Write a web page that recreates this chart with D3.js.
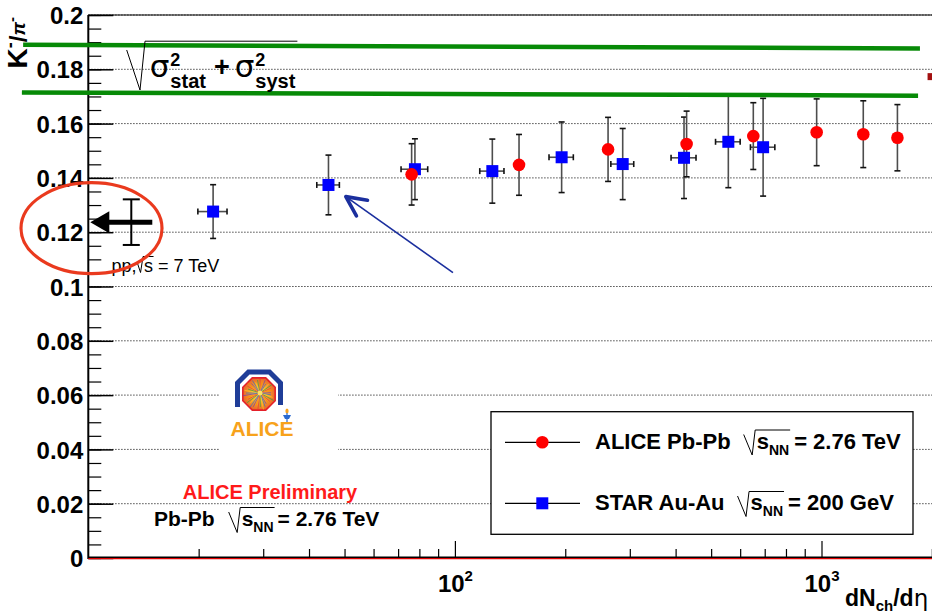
<!DOCTYPE html>
<html>
<head>
<meta charset="utf-8">
<script src="https://cdn.jsdelivr.net/npm/d3@7"></script>
<style>
  html, body { margin: 0; padding: 0; background: #fff; }
  svg { display: block; }
</style>
</head>
<body>
<svg id="chart" width="932" height="615"></svg>
<script>
const FONT = "'Liberation Sans', Arial, Helvetica, sans-serif";

// ALICE Pb-Pb, sqrt(sNN) = 2.76 TeV
const aliceDNdEta = [76.2, 149.6, 261.7, 428.6, 651.6, 970, 1300, 1611];
const aliceRatio  = [0.1413, 0.1448, 0.1505, 0.1525, 0.1554, 0.1568, 0.1561, 0.1548];
const aliceErr    = [0.0113, 0.0112, 0.0118, 0.0121, 0.0123, 0.0123, 0.0123, 0.0122];

// STAR Au-Au, sqrt(sNN) = 200 GeV
const starDNdEta    = [21.9, 45.2, 77.8, 126.5, 195.5, 286.9, 421.7, 557, 693];
const starRatio     = [0.1276, 0.1374, 0.1432, 0.1425, 0.1476, 0.1451, 0.1474, 0.1533, 0.1513];
const starErr       = [0.0099, 0.0110, 0.0112, 0.0118, 0.0130, 0.0131, 0.0150, 0.0169, 0.0180];
const starDNdEtaErr = [2.0, 3.2, 6.5, 9.6, 14.9, 20.6, 33, 43, 53];

// pp, sqrt(s) = 7 TeV reference point
const ppDNdEta = [13.1];
const ppRatio  = [0.1237];
const ppErr    = [0.0084];

// partially visible marker at the right edge of the frame
const edgeDNdEta = [1990];
const edgeRatio  = [0.1773];

// total-uncertainty band lines (start / end points)
const bandUpperDN = [6.64, 1856];
const bandUpperV  = [0.1890, 0.1877];
const bandLowerDN = [6.59, 1834];
const bandLowerV  = [0.1715, 0.1703];

// arrow annotation: tail -> head
const arrowDN = [98.8, 50.4];
const arrowV  = [0.1051, 0.1331];

// axes
const yTickValues = [0, 0.02, 0.04, 0.06, 0.08, 0.1, 0.12, 0.14, 0.16, 0.18, 0.2];
const yTickLabels = ["0", "0.02", "0.04", "0.06", "0.08", "0.1", "0.12", "0.14", "0.16", "0.18", "0.2"];
const yMinorTicks = d3.range(0, 41).map(i => +(i * 0.005).toFixed(3));
const xMajorTicks = [100, 1000];
const xMajorExp   = ["2", "3"];
const xMinorTicks = [20, 30, 40, 50, 60, 70, 80, 90, 200, 300, 400, 500, 600, 700, 800, 900, 2000];

const svg = d3.select("#chart");

const X0 = 88.3, DEC = 366.6;
const x = d3.scaleLog().domain([10, 2200]).range([X0, X0 + DEC * Math.log10(220)]);
const y = d3.scaleLinear().domain([0, 0.2]).range([558, 15]);
const xR = x.range()[1];

// rich text helper: sequence of runs, sub/superscripts and radicals
function richText(g, x0, y0, parts, anchor) {
  const grp = g.append("g");
  let cx = 0, sq = null;
  const style = (sel, p) => sel
    .attr("font-family", p.family || FONT)
    .attr("font-size", p.size)
    .attr("font-weight", p.weight || "bold")
    .attr("font-style", p.style || "normal")
    .attr("fill", p.fill || "#000");
  parts.forEach(p => {
    if (p.gap !== undefined) { cx += p.gap; return; }
    if (p.sqrt === "open") { sq = { x: cx, p }; cx += p.width; return; }
    if (p.sqrt === "close") {
      const s = sq.p, sx = sq.x;
      grp.append("path")
        .attr("d", `M${sx},${-s.lead} L${sx + s.bx},${s.depth} L${sx + s.tx},${-s.rise} H${cx + (p.extra || 0)}`)
        .attr("fill", "none").attr("stroke", s.color || "#000")
        .attr("stroke-width", s.sw || 1).attr("stroke-linejoin", "miter");
      return;
    }
    if (p.stack) {
      // super- and subscript sharing one horizontal position
      const t = grp.append("text").attr("font-family", FONT).attr("fill", "#000");
      let w = 0;
      p.stack.forEach(q => {
        const ts = style(t.append("tspan"), q).attr("x", cx).attr("y", q.dy || 0).text(q.t);
        w = Math.max(w, ts.node().getComputedTextLength());
      });
      cx += w; return;
    }
    const t = style(grp.append("text"), p).attr("x", cx).attr("y", p.dy || 0).text(p.t);
    cx += t.node().getComputedTextLength();
  });
  const shift = anchor === "middle" ? -cx / 2 : anchor === "end" ? -cx : 0;
  grp.attr("transform", `translate(${x0 + shift},${y0})`);
  return cx;
}

// ---------- grid ----------
const grid = svg.append("g");
grid.selectAll("line").data(yTickValues.filter(v => v > 0)).join("line")
  .attr("x1", X0).attr("x2", xR)
  .attr("y1", d => y(d)).attr("y2", d => y(d))
  .attr("stroke", "#222").attr("stroke-width", 1)
  .attr("stroke-dasharray", "1.2,1.8");

// ---------- ALICE logo ----------
const logo = svg.append("g");
logo.append("rect").attr("x", 219).attr("y", 364).attr("width", 119).attr("height", 92).attr("fill", "#fff");
logo.append("path")
  .attr("d", "M237.5,407 L237.5,383 L248.5,372 L269.5,372 L280.5,383 L280.5,405")
  .attr("fill", "none").attr("stroke", "#1f3d98").attr("stroke-width", 5);
const lc = { x: 259, y: 394, r: 17.5 };
const oct = d3.range(8).map(k => {
  const a = Math.PI / 8 + k * Math.PI / 4;
  return [lc.x + lc.r * Math.cos(a), lc.y + lc.r * Math.sin(a)];
});
const defs = svg.append("defs");
const rg = defs.append("radialGradient").attr("id", "burst");
rg.append("stop").attr("offset", "0%").attr("stop-color", "#ffe36a");
rg.append("stop").attr("offset", "55%").attr("stop-color", "#f7a02a");
rg.append("stop").attr("offset", "100%").attr("stop-color", "#e8682a");
logo.append("polygon").attr("points", oct.map(p => p.join(",")).join(" "))
  .attr("fill", "url(#burst)").attr("stroke", "#e4202a").attr("stroke-width", 1.6);
const rayColors = ["#2b6fd6", "#ffd21f", "#2f9e44", "#e53935", "#ff8a00", "#6a3fb5"];
d3.range(36).forEach(k => {
  const a = k * Math.PI * 2 / 36 + 0.07;
  const len = 12 + (k * 7 % 5);
  logo.append("line")
    .attr("x1", lc.x + 1).attr("y1", lc.y - 1)
    .attr("x2", lc.x + len * Math.cos(a)).attr("y2", lc.y + len * Math.sin(a))
    .attr("stroke", rayColors[k % rayColors.length]).attr("stroke-width", 0.8).attr("opacity", 0.85);
});
logo.append("circle").attr("cx", lc.x + 1).attr("cy", lc.y - 1).attr("r", 2.5).attr("fill", "#ffe066");
logo.append("ellipse").attr("cx", 287).attr("cy", 411).attr("rx", 1.6).attr("ry", 2.5).attr("fill", "#f7a21b");
logo.append("path").attr("d", "M283,415 L291,415 L289,419 L285,419 Z").attr("fill", "#2a6ad0");
logo.append("line").attr("x1", 287).attr("x2", 287).attr("y1", 413).attr("y2", 422).attr("stroke", "#2a6ad0").attr("stroke-width", 1.2);
logo.append("text").attr("x", 262).attr("y", 436).attr("text-anchor", "middle")
  .attr("font-family", FONT).attr("font-weight", "bold").attr("font-size", 21)
  .attr("fill", "#f7a21b").text("ALICE");

// ---------- axes ----------
const yAxisG = svg.append("g").attr("transform", `translate(${X0},0)`)
  .call(d3.axisLeft(y).tickValues(yTickValues).tickFormat((d, i) => yTickLabels[i])
    .tickSizeInner(-25).tickSizeOuter(0).tickPadding(5));
yAxisG.select(".domain").remove();
yAxisG.selectAll(".tick line").attr("stroke", "#000").attr("stroke-width", 1.5);
yAxisG.selectAll(".tick text").attr("font-family", FONT).attr("font-weight", "bold")
  .attr("font-size", 24).attr("fill", "#000").attr("dy", "0.36em");

const yMinorG = svg.append("g").attr("transform", `translate(${X0},0)`)
  .call(d3.axisLeft(y).tickValues(yMinorTicks).tickFormat("").tickSizeInner(-13).tickSizeOuter(0));
yMinorG.select(".domain").remove();
yMinorG.selectAll(".tick line").attr("stroke", "#000").attr("stroke-width", 1.2);

const xAxisG = svg.append("g").attr("transform", "translate(0,558)")
  .call(d3.axisBottom(x).tickValues(xMajorTicks).tickFormat("").tickSizeInner(-17).tickSizeOuter(0));
xAxisG.select(".domain").remove();
xAxisG.selectAll(".tick line").attr("stroke", "#000").attr("stroke-width", 1.2);
xAxisG.selectAll(".tick text").remove();
xAxisG.selectAll(".tick").each(function (d, i) {
  const t = d3.select(this).append("text")
    .attr("y", 33.7).attr("text-anchor", "middle")
    .attr("font-family", FONT).attr("font-weight", "bold").attr("fill", "#000");
  t.append("tspan").attr("font-size", 24).text("10");
  t.append("tspan").attr("font-size", 15).attr("dy", -11).text(xMajorExp[i]);
});

const xMinorG = svg.append("g").attr("transform", "translate(0,558)")
  .call(d3.axisBottom(x).tickValues(xMinorTicks).tickFormat("").tickSizeInner(-9).tickSizeOuter(0));
xMinorG.select(".domain").remove();
xMinorG.selectAll(".tick line").attr("stroke", "#000").attr("stroke-width", 1.2);

// frame lines
svg.append("line").attr("x1", X0).attr("x2", X0).attr("y1", y(0.2)).attr("y2", y(0) + 1)
  .attr("stroke", "#000").attr("stroke-width", 2);
svg.append("line").attr("x1", X0).attr("x2", xR).attr("y1", y(0.2)).attr("y2", y(0.2))
  .attr("stroke", "#000").attr("stroke-width", 1.2);
svg.append("line").attr("x1", X0).attr("x2", xR).attr("y1", y(0) - 0.8).attr("y2", y(0) - 0.8)
  .attr("stroke", "#000").attr("stroke-width", 1.5);
svg.append("line").attr("x1", X0).attr("x2", xR).attr("y1", y(0) + 0.6).attr("y2", y(0) + 0.6)
  .attr("stroke", "#e00000").attr("stroke-width", 1.2);

// axis titles
const yTitle = svg.append("text").attr("transform", "translate(27,17) rotate(-90)")
  .attr("text-anchor", "end").attr("font-family", FONT).attr("font-weight", "bold").attr("fill", "#000");
yTitle.append("tspan").attr("font-size", 28).text("K");
yTitle.append("tspan").attr("font-size", 18).attr("dy", -11).text("-");
yTitle.append("tspan").attr("font-size", 24).attr("dy", 11).text("/");
yTitle.append("tspan").attr("font-size", 19).attr("font-style", "italic").attr("dy", -2).text("π");
yTitle.append("tspan").attr("font-size", 15).attr("dy", -8).text("-");

richText(svg, 845, 606, [
  { t: "dN", size: 23 },
  { t: "ch", size: 15, dy: 5 },
  { t: "/d", size: 23 },
  { t: "η", size: 23, weight: "normal", family: "'DejaVu Sans', sans-serif" }
]);

// ---------- error bars and markers ----------
const errStem = "#4d4d4d";
function vErrors(g, xs, ys, es, cap) {
  xs.forEach((xv, i) => {
    const px = x(xv), y1 = y(ys[i] - es[i]), y2 = y(ys[i] + es[i]);
    g.append("line").attr("x1", px).attr("x2", px).attr("y1", y1).attr("y2", y2)
      .attr("stroke", errStem).attr("stroke-width", 1.6);
    [y1, y2].forEach(py => g.append("line")
      .attr("x1", px - cap).attr("x2", px + cap).attr("y1", py).attr("y2", py)
      .attr("stroke", "#111").attr("stroke-width", 1.6));
  });
}
function hErrors(g, xs, ys, es, cap) {
  xs.forEach((xv, i) => {
    const py = y(ys[i]), x1 = x(xv - es[i]), x2 = x(xv + es[i]);
    g.append("line").attr("x1", x1).attr("x2", x2).attr("y1", py).attr("y2", py)
      .attr("stroke", errStem).attr("stroke-width", 1.6);
    [x1, x2].forEach(px => g.append("line")
      .attr("x1", px).attr("x2", px).attr("y1", py - cap).attr("y2", py + cap)
      .attr("stroke", "#111").attr("stroke-width", 1.6));
  });
}

const dataG = svg.append("g");
vErrors(dataG, starDNdEta, starRatio, starErr, 3);
hErrors(dataG, starDNdEta, starRatio, starDNdEtaErr, 3);
vErrors(dataG, aliceDNdEta, aliceRatio, aliceErr, 3);

dataG.selectAll("rect.star").data(starDNdEta).join("rect").attr("class", "star")
  .attr("x", (d) => x(d) - 6).attr("y", (d, i) => y(starRatio[i]) - 6)
  .attr("width", 12).attr("height", 12).attr("fill", "#0000ff");
dataG.selectAll("circle.alice").data(aliceDNdEta).join("circle").attr("class", "alice")
  .attr("cx", d => x(d)).attr("cy", (d, i) => y(aliceRatio[i]))
  .attr("r", 6.3).attr("fill", "#ff0000");
dataG.selectAll("rect.edge").data(edgeDNdEta).join("rect").attr("class", "edge")
  .attr("x", d => x(d) - 3.5).attr("y", (d, i) => y(edgeRatio[i]) - 3.5)
  .attr("width", 7).attr("height", 7).attr("fill", "#a31010");

// pp reference: error bar and arrow pointing to the axis
const ppG = svg.append("g");
ppDNdEta.forEach((d, i) => {
  const px = x(d), py = y(ppRatio[i]);
  const y1 = y(ppRatio[i] - ppErr[i]), y2 = y(ppRatio[i] + ppErr[i]);
  ppG.append("line").attr("x1", px).attr("x2", px).attr("y1", y1).attr("y2", y2)
    .attr("stroke", "#000").attr("stroke-width", 2);
  [y1, y2].forEach(yy => ppG.append("line").attr("x1", px - 8.5).attr("x2", px + 8.5)
    .attr("y1", yy).attr("y2", yy).attr("stroke", "#000").attr("stroke-width", 2));
  const tip = x(10) + 2;
  ppG.append("line").attr("x1", tip + 14).attr("x2", px + 21).attr("y1", py).attr("y2", py)
    .attr("stroke", "#000").attr("stroke-width", 5);
  ppG.append("path").attr("d", `M${tip},${py} L${tip + 19},${py - 11} L${tip + 19},${py + 11} Z`)
    .attr("fill", "#000");
});
richText(svg, 111.5, 271.5, [
  { t: "pp,", size: 18, weight: "normal" },
  { gap: 1 },
  { sqrt: "open", lead: 8, bx: 3, depth: 1, tx: 5.5, rise: 15, width: 6.5 },
  { t: "s", size: 18, weight: "normal" },
  { sqrt: "close", extra: 0.5 },
  { gap: 5 },
  { t: "=", size: 18, weight: "normal" },
  { gap: 5 },
  { t: "7 TeV", size: 18, weight: "normal" }
]);

// red circle around the pp reference
svg.append("ellipse").attr("cx", x(10) + 3.2).attr("cy", y(ppRatio[0]) + 6)
  .attr("rx", 70.5).attr("ry", 45.5)
  .attr("fill", "none").attr("stroke", "#ea3a1e").attr("stroke-width", 3.2);

// ---------- total uncertainty band ----------
[[bandUpperDN, bandUpperV], [bandLowerDN, bandLowerV]].forEach(([dn, v]) => {
  svg.append("line")
    .attr("x1", x(dn[0])).attr("x2", x(dn[1]))
    .attr("y1", y(v[0])).attr("y2", y(v[1]))
    .attr("stroke", "#078a07").attr("stroke-width", 4.5);
});

// sqrt(sigma_stat^2 + sigma_syst^2)
richText(svg, 126.7, 76.7, [
  { sqrt: "open", lead: 26.7, bx: 13.3, depth: 13.3, tx: 18.3, rise: 35.5, width: 23 },
  { t: "σ", size: 31, weight: "normal", family: "'DejaVu Sans', sans-serif" },
  { gap: 1 },
  { stack: [{ t: "2", size: 18, dy: -11 }, { t: "stat", size: 20, dy: 11 }] },
  { gap: 8 },
  { t: "+", size: 27, dy: -1 },
  { gap: 5 },
  { t: "σ", size: 31, weight: "normal", family: "'DejaVu Sans', sans-serif" },
  { gap: 1 },
  { stack: [{ t: "2", size: 18, dy: -11 }, { t: "syst", size: 20, dy: 11 }] },
  { sqrt: "close", extra: 2 }
]);

// arrow towards the STAR point
(function () {
  const tx = x(arrowDN[0]), ty = y(arrowV[0]);
  const hx = x(arrowDN[1]), hy = y(arrowV[1]);
  const col = "#1b2f9e";
  svg.append("line").attr("x1", tx).attr("y1", ty).attr("x2", hx).attr("y2", hy)
    .attr("stroke", col).attr("stroke-width", 1.6);
  const ang = Math.atan2(ty - hy, tx - hx);
  const L = 22, spread = 0.45;
  const a1 = [hx + L * Math.cos(ang - spread), hy + L * Math.sin(ang - spread)];
  const a2 = [hx + L * Math.cos(ang + spread), hy + L * Math.sin(ang + spread)];
  svg.append("path").attr("d", `M${a1} L${hx},${hy} L${a2}`)
    .attr("fill", "none").attr("stroke", col).attr("stroke-width", 3.6)
    .attr("stroke-linecap", "round").attr("stroke-linejoin", "round");
})();

// ---------- labels ----------
svg.append("text").attr("x", 270).attr("y", 498.5).attr("text-anchor", "middle")
  .attr("font-family", FONT).attr("font-weight", "bold").attr("font-size", 20)
  .attr("fill", "#ff1a1a").text("ALICE Preliminary");

const radSmall = { sqrt: "open", lead: 14, bx: 8.5, depth: 6.5, tx: 11.5, rise: 18.5, width: 13 };
richText(svg, 154, 526, [
  { t: "Pb-Pb", size: 21 },
  { gap: 14 },
  radSmall,
  { t: "s", size: 21 },
  { t: "NN", size: 14, dy: 6 },
  { sqrt: "close", extra: 1 },
  { gap: 4 },
  { t: "= 2.76 TeV", size: 21 }
]);

// ---------- legend ----------
const leg = svg.append("g");
leg.append("rect").attr("x", 491).attr("y", 411.7).attr("width", 422).attr("height", 122.6)
  .attr("fill", "#fff").attr("stroke", "#000").attr("stroke-width", 1.3);
const legRows = [
  { y: 442.3, base: 448.5, label: "ALICE Pb-Pb", energy: "= 2.76 TeV", marker: "circle" },
  { y: 503.3, base: 510, label: "STAR Au-Au", energy: "= 200 GeV", marker: "square" }
];
legRows.forEach(r => {
  leg.append("line").attr("x1", 505).attr("x2", 580).attr("y1", r.y).attr("y2", r.y)
    .attr("stroke", "#000").attr("stroke-width", 1.2);
  if (r.marker === "circle") {
    leg.append("circle").attr("cx", 542.3).attr("cy", r.y).attr("r", 6.3).attr("fill", "#ff0000");
  } else {
    leg.append("rect").attr("x", 536.3).attr("y", r.y - 6).attr("width", 12).attr("height", 12).attr("fill", "#0000ff");
  }
  richText(leg, 595, r.base, [
    { t: r.label, size: 22 },
    { gap: 13 },
    radSmall,
    { t: "s", size: 22 },
    { t: "NN", size: 14, dy: 6 },
    { sqrt: "close", extra: 1 },
    { gap: 5 },
    { t: r.energy, size: 22 }
  ]);
});
</script>
</body>
</html>
